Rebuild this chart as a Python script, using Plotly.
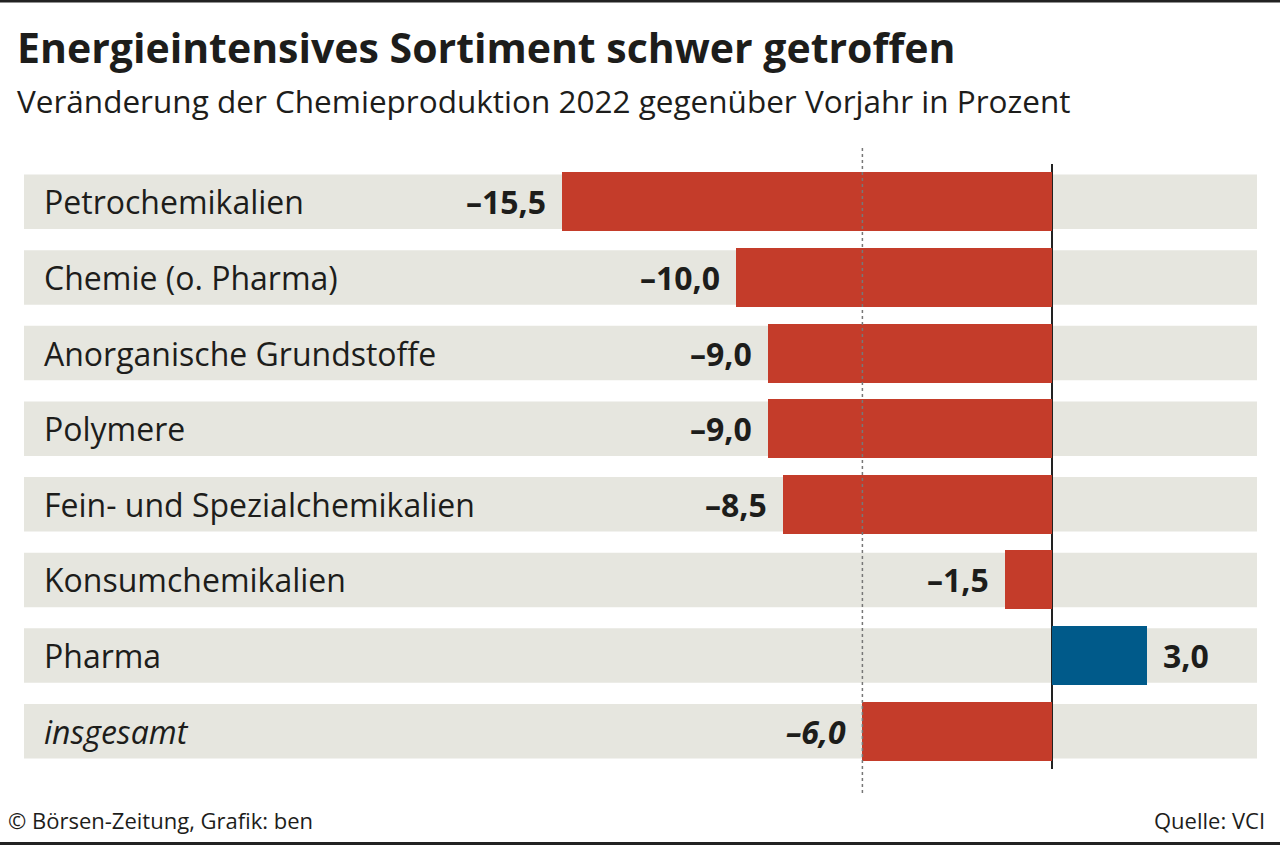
import plotly.graph_objects as go

categories = ["Petrochemikalien", "Chemie (o. Pharma)", "Anorganische Grundstoffe", "Polymere",
              "Fein- und Spezialchemikalien", "Konsumchemikalien", "Pharma", "insgesamt"]
values = [-15.5, -10.0, -9.0, -9.0, -8.5, -1.5, 3.0, -6.0]
value_labels = ["–15,5", "–10,0", "–9,0", "–9,0", "–8,5", "–1,5", "3,0", "–6,0"]

title = "Energieintensives Sortiment schwer getroffen"
subtitle = "Veränderung der Chemieproduktion 2022 gegenüber Vorjahr in Prozent"
credit = "© Börsen-Zeitung, Grafik: ben"
source = "Quelle: VCI"

RED = "#c43c2a"
BLUE = "#005a8a"
BAND = "#e6e6df"
TEXT = "#1d1d1b"
FONT = "Open Sans"

W, H = 1280, 845
L, R, T, B = 21, 23, 164, 76
PH = H - T - B

def py(px):
    return (H - B - px) / PH

def px_(px):
    return (px - L) / (W - L - R)

colors = [BLUE if v > 0 else RED for v in values]
is_total = [c == "insgesamt" for c in categories]

fig = go.Figure()
fig.add_trace(go.Bar(
    y=categories, x=values, orientation="h",
    marker=dict(color=colors, line=dict(width=0)),
    width=0.78, hoverinfo="skip",
))

shapes = []
for i, c in enumerate(categories):
    shapes.append(dict(type="rect", xref="paper", yref="y", x0=px_(24), x1=1,
                       y0=i - 0.36, y1=i + 0.36, fillcolor=BAND, line=dict(width=0),
                       layer="below"))
total_val = values[categories.index("insgesamt")]
shapes.append(dict(type="line", xref="x", yref="paper", x0=total_val, x1=total_val,
                   y0=py(793), y1=py(145), line=dict(color="#777777", width=1.5, dash="dot")))
shapes.append(dict(type="rect", xref="paper", yref="paper", x0=px_(-5), x1=px_(1285),
                   y0=py(2.5), y1=py(-5), fillcolor="#222222", line=dict(width=0)))
shapes.append(dict(type="rect", xref="paper", yref="paper", x0=px_(-5), x1=px_(1285),
                   y0=py(850), y1=py(842), fillcolor="#222222", line=dict(width=0)))

annotations = []
for i, (c, v, lab) in enumerate(zip(categories, values, value_labels)):
    txt = f"<i>{c}</i>" if is_total[i] else c
    annotations.append(dict(xref="paper", yref="y", x=px_(42), y=c, text=txt,
                            xanchor="left", yanchor="middle", showarrow=False,
                            font=dict(family=FONT, size=32, color=TEXT)))
    vtxt = f"<b><i>{lab}</i></b>" if is_total[i] else f"<b>{lab}</b>"
    annotations.append(dict(xref="x", yref="y", x=v, y=c, text=vtxt,
                            xanchor="left" if v > 0 else "right", yanchor="middle",
                            xshift=14 if v > 0 else -14, showarrow=False,
                            font=dict(family=FONT, size=32, color=TEXT)))

annotations += [
    dict(xref="paper", yref="paper", x=px_(15), y=py(47), text=f"<b>{title}</b>",
         xanchor="left", yanchor="middle", showarrow=False,
         font=dict(family=FONT, size=41, color=TEXT)),
    dict(xref="paper", yref="paper", x=px_(15), y=py(100), text=subtitle,
         xanchor="left", yanchor="middle", showarrow=False,
         font=dict(family=FONT, size=31.5, color=TEXT)),
    dict(xref="paper", yref="paper", x=px_(6), y=py(820), text=credit,
         xanchor="left", yanchor="middle", showarrow=False,
         font=dict(family=FONT, size=22, color=TEXT)),
    dict(xref="paper", yref="paper", x=px_(1267), y=py(820), text=source,
         xanchor="right", yanchor="middle", showarrow=False,
         font=dict(family=FONT, size=22, color=TEXT)),
]

zero_px = 1052
scale = 31.6
xmin = -(zero_px - L) / scale
xmax = (W - R - zero_px) / scale

fig.update_layout(
    width=W, height=H,
    margin=dict(l=L, r=R, t=T, b=B, pad=0),
    paper_bgcolor="white", plot_bgcolor="rgba(0,0,0,0)",
    showlegend=False, bargap=0,
    xaxis=dict(range=[xmin, xmax], showgrid=False, showticklabels=False, ticks="",
               zeroline=True, zerolinecolor="#222222", zerolinewidth=2, fixedrange=True),
    yaxis=dict(autorange="reversed", showgrid=False, showticklabels=False, ticks="",
               zeroline=False, fixedrange=True),
    shapes=shapes, annotations=annotations,
)

fig.write_html("out.html", config={"displayModeBar": False},
               post_script="document.body.style.margin='0';document.body.style.overflow='hidden';")
